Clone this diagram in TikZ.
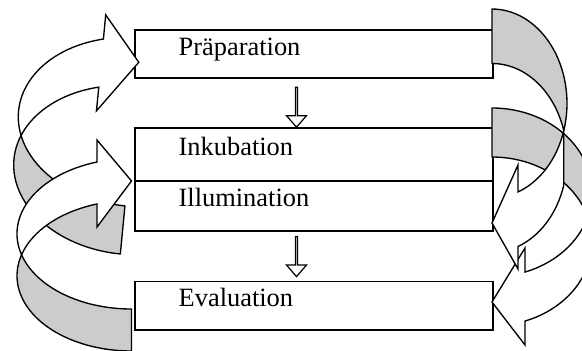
\documentclass[tikz,border=0pt]{standalone}
\usepackage{fontspec}
\setmainfont{Liberation Serif}
\usetikzlibrary{positioning,shapes.arrows}

\definecolor{ribbongray}{RGB}{204,204,204}

\tikzset{
    stagebox/.style={draw, line width=1.5pt, minimum width=358pt, inner sep=0pt, outer sep=0pt},
    stagelabel/.style={anchor=base west, inner sep=0pt, font=\fontsize{26.4}{32}\selectfont},
    backface/.style={draw, fill=ribbongray, line width=1.35pt, line join=round},
    frontface/.style={draw, fill=white, line width=1.35pt},
    stepdown/.style={draw, single arrow, rotate=-90, anchor=tip, line width=1.2pt,
        minimum height=40pt, minimum width=20pt, inner sep=0pt,
        single arrow head extend=5.8pt, single arrow tip angle=82}
}

\begin{document}
\begin{tikzpicture}[x=1pt, y=-1pt]
    \clip (0,0) rectangle (582,351);

    \node[stagebox, minimum height=48pt] (prep) at (314,54.2) {};
    \node[stagebox, minimum height=52.7pt] (inku) [below=49.9pt of prep] {};
    \node[stagebox, minimum height=50pt] (illu) [below=0pt of inku] {};
    \node[stagebox, minimum height=48.3pt] (eval) [below=50.7pt of illu] {};

    \node[stagelabel] (preplabel) at ([shift={(43.5,1)}]prep.west) {Präparation};
    \node[stagelabel] (inkulabel) at ([shift={(43.5,1)}]inku.west) {Inkubation};
    \node[stagelabel] (illulabel) at ([shift={(43.5,1)}]illu.west) {Illumination};
    \node[stagelabel] (evallabel) at ([shift={(43.5,1)}]eval.west) {Evaluation};

    \node[stepdown] (down1) at ([xshift=-17.5pt]inku.north) {};
    \node[stepdown] (down2) at ([shift={(-17.5,-4)}]eval.north) {};

    % left ribbon arrows, back face first
    \begin{scope}[rotate around={-5.5:(80,146)}]
        \draw[backface] (130.5,117) ++(163.35:115 and 84.3)
            arc[start angle=163.35, end angle=90, x radius=115, y radius=84.3]
            -- (130.5,249.6)
            arc[start angle=90, end angle=196.65, x radius=115, y radius=84.3]
            -- cycle;
        \draw[frontface] (130.5,117) ++(251:115 and 84.3)
            arc[start angle=251, end angle=163.35, x radius=115, y radius=84.3]
            arc[start angle=196.65, end angle=251, x radius=115, y radius=84.3]
            -- (93,109.5) -- (130.5,57) -- (93,13) -- cycle;
    \end{scope}

    \draw[backface] (131.5,233.75) ++(163.8:114.5 and 75.25)
        arc[start angle=163.8, end angle=90, x radius=114.5, y radius=75.25]
        -- (131.5,351)
        arc[start angle=90, end angle=196.2, x radius=114.5, y radius=75.25]
        -- cycle;
    \draw[frontface] (131.5,233.75) ++(252.46:114.5 and 75.25)
        arc[start angle=252.46, end angle=163.8, x radius=114.5, y radius=75.25]
        arc[start angle=196.2, end angle=252.46, x radius=114.5, y radius=75.25]
        -- (97,227) -- (131.5,181) -- (97,140) -- cycle;

    % right ribbon arrows
    \draw[backface] (492,108)
        arc[start angle=270, end angle=376.88, x radius=100, y radius=84.4]
        arc[start angle=343.12, end angle=270, x radius=100, y radius=84.4]
        -- cycle;
    \draw[frontface] (492,192.4) ++(16.88:100 and 84.4)
        arc[start angle=16.88, end angle=70.73, x radius=100, y radius=84.4]
        -- (525,248) -- (492,302) -- (525,345) -- (525,321.07)
        arc[start angle=70.73, end angle=16.88, x radius=100, y radius=84.4]
        -- cycle;

    \draw[backface] (492,9)
        arc[start angle=270, end angle=376.78, x radius=75, y radius=94.4]
        arc[start angle=343.22, end angle=270, x radius=75, y radius=94.4]
        -- cycle;
    \draw[frontface] (492,103.4) ++(16.78:75 and 94.4)
        arc[start angle=16.78, end angle=69.72, x radius=75, y radius=94.4]
        -- (518,165) -- (492,223) -- (518,269) -- (518,246.45)
        arc[start angle=69.72, end angle=16.78, x radius=75, y radius=94.4]
        -- cycle;
\end{tikzpicture}
\end{document}
